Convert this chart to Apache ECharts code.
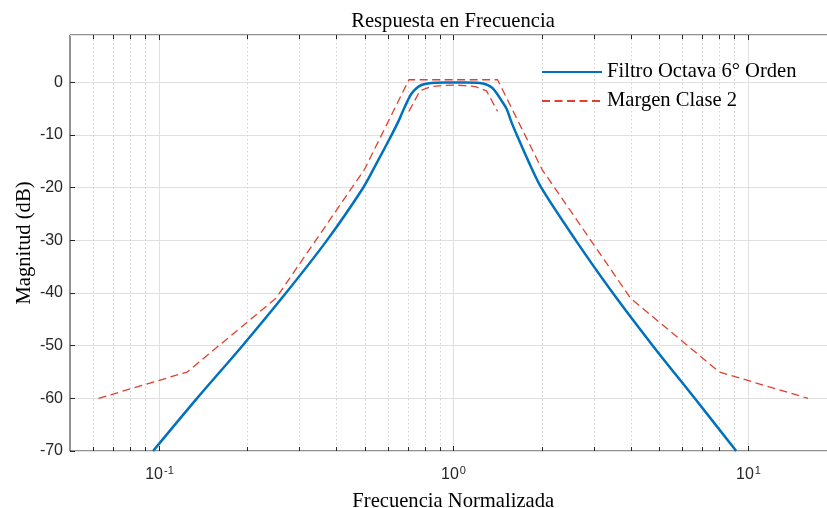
<!DOCTYPE html>
<html><head><meta charset="utf-8">
<script src="https://cdn.jsdelivr.net/npm/echarts@6/dist/echarts.min.js"></script>
<style>html,body{margin:0;padding:0;background:#fff}#c{width:827px;height:508px}</style>
</head><body><div id="c"></div>
<script>
// ---------- data ----------
const titleText = 'Respuesta en Frecuencia';
const xAxisName = 'Frecuencia Normalizada';
const yAxisName = 'Magnitud (dB)';
const filterName = 'Filtro Octava 6° Orden';
const maskName = 'Margen Clase 2';

const filterFreq = [0.0957, 0.1349, 0.1925, 0.2704, 0.3725, 0.4946, 0.5535, 0.6173, 0.65, 0.68, 0.70, 0.72, 0.75, 0.78, 0.82, 0.87, 0.95, 1.0, 1.1, 1.2, 1.26, 1.31, 1.36, 1.41, 1.46, 1.517, 1.575, 1.644, 1.80, 1.99, 2.606, 3.481, 4.757, 6.604, 9.134];
const filterDb   = [-70,    -60,    -50,    -40,    -30,    -20,    -15,    -10,    -7.5, -5,   -3.5, -2.2, -1.1, -0.5, -0.2, -0.05, 0,   0,   0,   -0.05, -0.2, -0.5, -1.1, -2.2, -3.5, -5,    -7.5,  -10,   -15,  -20,   -30,   -40,   -50,   -60,   -70];

const maskUpperFreq = [0.0625, 0.125, 0.25, 0.5, 0.7071, 1.4142, 2, 4, 8, 16];
const maskUpperDb   = [-60, -55, -41, -16.5, 0.5, 0.5, -16.5, -41, -55, -60];
const maskLowerFreq = [0.7071, 0.7711, 0.8409, 0.917, 1.0, 1.0905, 1.1892, 1.2968, 1.4142];
const maskLowerDb   = [-5.5, -1.6, -0.8, -0.6, -0.5, -0.6, -0.8, -1.6, -5.5];

const xMajorTicks = [0.1, 1, 10];
const xMajorExp = ['-1', '0', '1'];
const xMinorTicks = [0.06, 0.07, 0.08, 0.09, 0.2, 0.3, 0.4, 0.5, 0.6, 0.7, 0.8, 0.9, 2, 3, 4, 5, 6, 7, 8, 9, 20];

const xMin = 0.05, xMax = 20, yMin = -70, yMax = 9;

// ---------- chart ----------
const zip = (a, b) => a.map((v, i) => [v, b[i]]);
const tickData = xMajorTicks.map((v, i) => [v, yMin, 1, i]).concat(xMinorTicks.map(v => [v, yMin, 0, -1]));
const SANS = 'Liberation Sans, Arial, sans-serif';
const SERIF = 'Liberation Serif, Times New Roman, serif';
const AX = '#262626';
const RED = '#e0402f';

const chart = echarts.init(document.getElementById('c'), null, {renderer: 'canvas'});
chart.setOption({
  animation: false,
  backgroundColor: '#fff',
  graphic: [{
    type: 'text', x: 453, y: 11,
    style: {text: titleText, font: '20.6px ' + SERIF, fill: '#000', align: 'center', verticalAlign: 'top'}
  }],
  grid: {left: 70, top: 35, right: -9.5, bottom: 57, show: true, borderColor: AX, borderWidth: 1,
         containLabel: false, outerBoundsMode: 'none'},
  legend: {
    orient: 'vertical', left: 536, top: 56,
    itemWidth: 60, itemHeight: 14, itemGap: 7,
    itemStyle: {opacity: 0},
    textStyle: {fontFamily: SERIF, fontSize: 20.6, color: '#000', lineHeight: 22},
    data: [filterName, maskName]
  },
  xAxis: {
    type: 'log', logBase: 10, min: xMin, max: xMax,
    name: xAxisName, nameLocation: 'middle', nameGap: 40, nameMoveOverlap: false,
    nameTextStyle: {fontFamily: SERIF, fontSize: 20.6, color: '#000'},
    axisLine: {show: false}, axisTick: {show: false}, axisLabel: {show: false},
    splitLine: {show: false}, minorTick: {show: false}, minorSplitLine: {show: false}
  },
  yAxis: {
    type: 'value', min: yMin, max: yMax, interval: 10,
    name: yAxisName, nameLocation: 'middle', nameGap: 35, nameRotate: 90, nameMoveOverlap: false,
    nameTextStyle: {fontFamily: SERIF, fontSize: 20.6, color: '#000'},
    axisLine: {show: false},
    axisTick: {show: true, inside: true, length: 5, lineStyle: {color: AX}},
    axisLabel: {fontFamily: SANS, fontSize: 16, color: AX, margin: 7, showMaxLabel: false},
    splitLine: {show: true, lineStyle: {color: '#e0e0e0', width: 1}}
  },
  series: [
    {
      type: 'custom', name: 'xgrid', silent: true, clip: false, z: 1,
      data: tickData,
      encode: {x: 0, y: 1},
      renderItem: function (params, api) {
        const v = api.value(0), major = api.value(2) === 1, idx = api.value(3);
        const pb = api.coord([v, yMin]);
        const pt = api.coord([v, yMax]);
        const x = Math.round(pb[0]) + 0.5;
        const children = [
          {type: 'line', shape: {x1: x, y1: pt[1], x2: x, y2: pb[1]},
           style: {stroke: major ? '#e0e0e0' : '#d2d2d2', lineWidth: 1, lineDash: major ? null : [1.5, 2.5]}},
          {type: 'line', shape: {x1: x, y1: pb[1], x2: x, y2: pb[1] - (major ? 5 : 4)},
           style: {stroke: AX, lineWidth: 1}},
          {type: 'line', shape: {x1: x, y1: pt[1], x2: x, y2: pt[1] + (major ? 5 : 4)},
           style: {stroke: AX, lineWidth: 1}}
        ];
        if (major) {
          children.push({
            type: 'text', x: x, y: pb[1] + 14,
            style: {
              text: '{b|10}{s|' + xMajorExp[idx] + '}',
              align: 'center', verticalAlign: 'top',
              rich: {
                b: {fontFamily: SANS, fontSize: 16, fill: AX, lineHeight: 18, verticalAlign: 'bottom'},
                s: {fontFamily: SANS, fontSize: 11, fill: AX, lineHeight: 11, verticalAlign: 'top', padding: [0, 0, 0, 1]}
              }
            }
          });
        }
        return {type: 'group', children: children};
      }
    },
    {
      type: 'line', name: filterName, data: zip(filterFreq, filterDb),
      showSymbol: false, symbol: 'none', smooth: 0.3, z: 4,
      lineStyle: {color: '#0072BD', width: 2.5}, itemStyle: {color: '#0072BD'}
    },
    {
      type: 'line', name: maskName, data: zip(maskUpperFreq, maskUpperDb),
      showSymbol: false, symbol: 'none', z: 3,
      lineStyle: {color: RED, width: 1.3, type: [8, 4.5]}, itemStyle: {color: RED}
    },
    {
      type: 'line', name: maskName, data: zip(maskLowerFreq, maskLowerDb),
      showSymbol: false, symbol: 'none', z: 3,
      lineStyle: {color: RED, width: 1.3, type: [8, 4.5]}, itemStyle: {color: RED}
    }
  ]
});
</script>
</body></html>
